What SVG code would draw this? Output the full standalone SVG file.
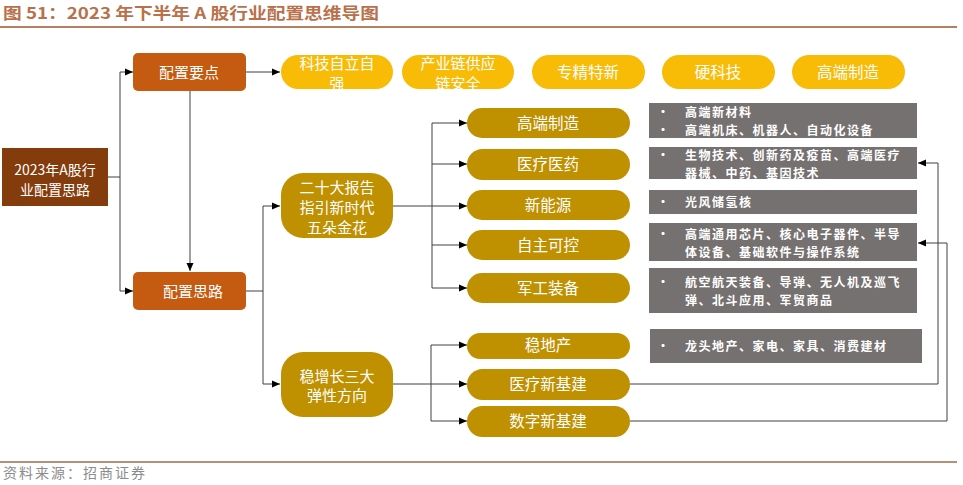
<svg xmlns="http://www.w3.org/2000/svg" width="963" height="485" viewBox="0 0 963 485">
<defs>
<marker id="ah" viewBox="0 0 8 8" refX="8" refY="4" markerWidth="8" markerHeight="8" markerUnits="userSpaceOnUse" orient="auto">
<path d="M0,0.5 L8,4 L0,7.5 z" fill="#000"/>
</marker>
<style>
text{font-family:"Noto Sans CJK SC","Liberation Sans",sans-serif;}
.title{font-size:16px;font-weight:bold;fill:#B8714B;}
.src{font-size:14px;fill:#8C8C8C;}
.w{fill:#fff;text-anchor:middle;}
.root{fill:#843C0C;}
.org{fill:#C55A11;}
.yel{fill:#F8BB06;}
.gold{fill:#BF9000;}
.gray{fill:#767171;}
.gt{fill:#fff;font-size:12px;font-weight:bold;letter-spacing:1.5px;}
.c{fill:none;stroke:#404040;stroke-width:1;}
.ca{fill:none;stroke:#404040;stroke-width:1;marker-end:url(#ah);}
</style>
</defs>
<rect width="963" height="485" fill="#fff"/>
<text class="title" x="3" y="19" textLength="376" lengthAdjust="spacingAndGlyphs">图 51：2023 年下半年 A 股行业配置思维导图</text>
<line x1="0" y1="27" x2="957" y2="27" stroke="#B5805F" stroke-width="2"/>
<line x1="0" y1="462" x2="957" y2="462" stroke="#B5917A" stroke-width="2"/>
<text class="src" x="3" y="478" textLength="142">资料来源：招商证券</text>

<g id="connectors">
<path class="c" d="M108,177 H120"/>
<path class="ca" d="M120,177 V72 H133"/>
<path class="ca" d="M120,177 V291 H133"/>
<path class="ca" d="M246,72 H280"/>
<path class="ca" d="M190,91 V271"/>
<path class="c" d="M246,291 H263"/>
<path class="ca" d="M263,291 V206 H280"/>
<path class="ca" d="M263,291 V384 H280"/>
<path class="c" d="M393,206 H432"/>
<path class="ca" d="M432,206 V123 H467"/>
<path class="ca" d="M432,164 H467"/>
<path class="ca" d="M432,206 H467"/>
<path class="ca" d="M432,206 V245 H467"/>
<path class="ca" d="M432,245 V288 H467"/>
<path class="c" d="M393,384 H431"/>
<path class="ca" d="M431,384 V345 H467"/>
<path class="ca" d="M431,384 H467"/>
<path class="ca" d="M431,384 V421 H467"/>
<path class="ca" d="M630,384 H938 V163 H918"/>
<path class="ca" d="M630,421 H947 V243 H918"/>
</g>

<g id="root">
<rect class="root" x="2" y="148" width="106" height="58"/>
<text class="w" x="55" y="175" font-size="14">2023年A股行</text>
<text class="w" x="55" y="195" font-size="14">业配置思路</text>
</g>

<g id="peizhi-yaodian">
<rect class="org" x="133" y="53" width="113" height="38" rx="5"/>
<text class="w" x="189" y="78" font-size="15">配置要点</text>
</g>
<g id="peizhi-silu">
<rect class="org" x="133" y="272" width="113" height="38" rx="5"/>
<text class="w" x="193" y="297" font-size="15">配置思路</text>
</g>

<g id="y1">
<rect class="yel" x="281" y="55" width="112" height="34" rx="17"/>
<text class="w" x="337" y="69" font-size="15">科技自立自</text>
<text class="w" x="337" y="89" font-size="15">强</text>
</g>
<g id="y2">
<rect class="yel" x="402" y="55" width="112" height="34" rx="17"/>
<text class="w" x="458" y="69" font-size="15">产业链供应</text>
<text class="w" x="458" y="89" font-size="15">链安全</text>
</g>
<g id="y3">
<rect class="yel" x="532" y="55" width="113" height="34" rx="17"/>
<text class="w" x="588" y="78" font-size="15.5">专精特新</text>
</g>
<g id="y4">
<rect class="yel" x="662" y="55" width="113" height="34" rx="17"/>
<text class="w" x="718" y="78" font-size="15.5">硬科技</text>
</g>
<g id="y5">
<rect class="yel" x="792" y="55" width="113" height="34" rx="17"/>
<text class="w" x="848" y="78" font-size="15.5">高端制造</text>
</g>

<g id="ershida">
<rect class="gold" x="281" y="173" width="112" height="65" rx="22"/>
<text class="w" x="337" y="193" font-size="15">二十大报告</text>
<text class="w" x="337" y="213" font-size="15">指引新时代</text>
<text class="w" x="337" y="233" font-size="15">五朵金花</text>
</g>
<g id="wenzengzhang">
<rect class="gold" x="281" y="352" width="112" height="65" rx="22"/>
<text class="w" x="337" y="382" font-size="15">稳增长三大</text>
<text class="w" x="337" y="401" font-size="15">弹性方向</text>
</g>

<g id="p1"><rect class="gold" x="467" y="108" width="163" height="30" rx="15"/><text class="w" x="548" y="129" font-size="15.5">高端制造</text></g>
<g id="p2"><rect class="gold" x="467" y="149" width="163" height="31" rx="15.5"/><text class="w" x="548" y="170" font-size="15.5">医疗医药</text></g>
<g id="p3"><rect class="gold" x="467" y="190" width="163" height="30" rx="15"/><text class="w" x="548" y="211" font-size="15.5">新能源</text></g>
<g id="p4"><rect class="gold" x="467" y="230" width="163" height="30" rx="15"/><text class="w" x="548" y="251" font-size="15.5">自主可控</text></g>
<g id="p5"><rect class="gold" x="467" y="273" width="163" height="30" rx="15"/><text class="w" x="548" y="294" font-size="15.5">军工装备</text></g>
<g id="p6"><rect class="gold" x="467" y="333" width="163" height="26" rx="13"/><text class="w" x="548" y="351" font-size="15.5">稳地产</text></g>
<g id="p7"><rect class="gold" x="467" y="369" width="163" height="31" rx="15.5"/><text class="w" x="548" y="390" font-size="15.5">医疗新基建</text></g>
<g id="p8"><rect class="gold" x="467" y="406" width="163" height="31" rx="15.5"/><text class="w" x="548" y="427" font-size="15.5">数字新基建</text></g>

<g id="g1">
<rect class="gray" x="649" y="103" width="268" height="35"/>
<text class="gt" x="657" y="117">•</text><text class="gt" x="685" y="117">高端新材料</text>
<text class="gt" x="657" y="135">•</text><text class="gt" x="685" y="135">高端机床、机器人、自动化设备</text>
</g>
<g id="g2">
<rect class="gray" x="649" y="147" width="268" height="32"/>
<text class="gt" x="657" y="160">•</text><text class="gt" x="685" y="160">生物技术、创新药及疫苗、高端医疗</text>
<text class="gt" x="685" y="177.5">器械、中药、基因技术</text>
</g>
<g id="g3">
<rect class="gray" x="649" y="190" width="268" height="24"/>
<text class="gt" x="657" y="206.5">•</text><text class="gt" x="685" y="206.5">光风储氢核</text>
</g>
<g id="g4">
<rect class="gray" x="649" y="223" width="268" height="38"/>
<text class="gt" x="657" y="239">•</text><text class="gt" x="685" y="239">高端通用芯片、核心电子器件、半导</text>
<text class="gt" x="685" y="257">体设备、基础软件与操作系统</text>
</g>
<g id="g5">
<rect class="gray" x="649" y="268" width="268" height="45"/>
<text class="gt" x="657" y="287">•</text><text class="gt" x="685" y="287">航空航天装备、导弹、无人机及巡飞</text>
<text class="gt" x="685" y="305">弹、北斗应用、军贸商品</text>
</g>
<g id="g6">
<rect class="gray" x="650" y="329" width="272" height="34"/>
<text class="gt" x="657" y="350.5">•</text><text class="gt" x="685" y="350.5">龙头地产、家电、家具、消费建材</text>
</g>
</svg>
